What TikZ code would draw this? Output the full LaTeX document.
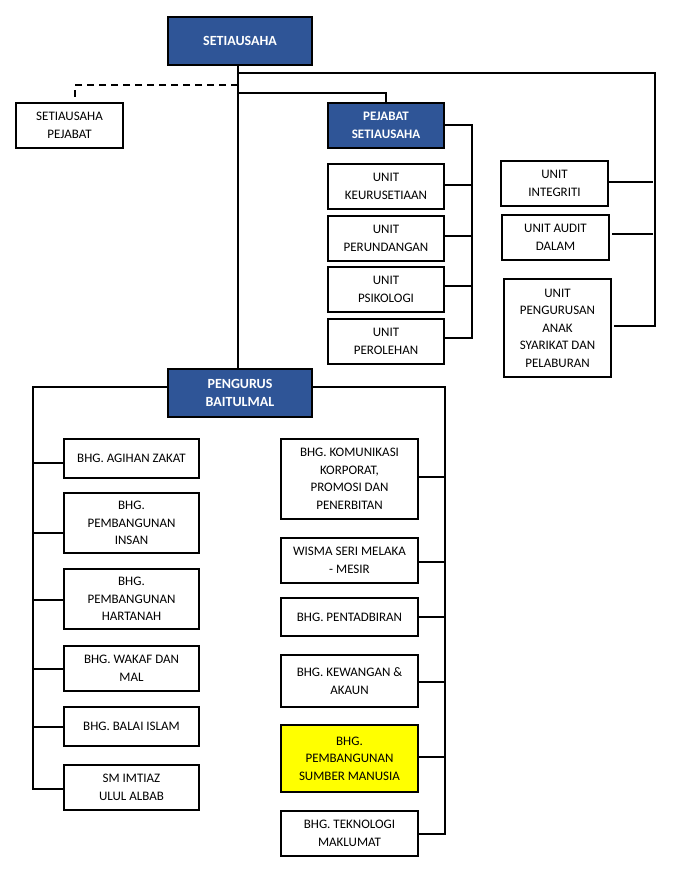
\documentclass[tikz,border=0pt]{standalone}
\usepackage{fontspec}
\setmainfont{Carlito}
\definecolor{hdrblue}{HTML}{2F5597}
\definecolor{hiyellow}{HTML}{FFFF00}
\begin{document}
\begin{tikzpicture}[x=1pt,y=-1pt,
  box/.style={draw=black,line width=2pt,fill=white,rectangle,align=center,inner sep=1pt,
    font=\fontsize{13}{17.5}\selectfont},
  hdr/.style={box,fill=hdrblue,text=white,font=\fontsize{14}{18}\selectfont\bfseries},
  hl/.style={box,fill=hiyellow},
  link/.style={line width=2pt,draw=black},
  dlink/.style={link,dash pattern=on 7pt off 5pt}]
\useasboundingbox (0,0) rectangle (680,883);
% top
\node[hdr,minimum width=144pt,minimum height=48pt] (sec) at (240,41) {SETIAUSAHA};
\node[box,minimum width=107pt,minimum height=45pt] (sp) at (69.5,125.5) {SETIAUSAHA\\PEJABAT};
\node[hdr,minimum width=116pt,minimum height=45pt,font=\fontsize{13}{17.5}\selectfont\bfseries] (pej) at (386,125.5) {PEJABAT\\SETIAUSAHA};
\node[box,minimum width=116pt,minimum height=45pt] (ukeu) at (386,186.5) {UNIT\\KEURUSETIAAN};
\node[box,minimum width=116pt,minimum height=45pt] (uper) at (386,238.5) {UNIT\\PERUNDANGAN};
\node[box,minimum width=116pt,minimum height=45pt] (upsi) at (386,289.5) {UNIT\\PSIKOLOGI};
\node[box,minimum width=116pt,minimum height=45pt] (upro) at (386,341.5) {UNIT\\PEROLEHAN};
\node[box,minimum width=107pt,minimum height=45pt] (uint) at (554.5,183.5) {UNIT\\INTEGRITI};
\node[box,minimum width=107pt,minimum height=45pt] (uaud) at (555.5,237.5) {UNIT AUDIT\\DALAM};
\node[box,minimum width=107pt,minimum height=98pt] (upen) at (557.5,328) {UNIT\\PENGURUSAN\\ANAK\\SYARIKAT DAN\\PELABURAN};
\node[hdr,minimum width=144pt,minimum height=48pt] (pb) at (240,393) {PENGURUS\\BAITULMAL};
% left column
\node[box,minimum width=135pt,minimum height=39pt] (l1) at (131.5,458.5) {BHG. AGIHAN ZAKAT};
\node[box,minimum width=135pt,minimum height=60pt] (l2) at (131.5,523) {BHG.\\PEMBANGUNAN\\INSAN};
\node[box,minimum width=135pt,minimum height=60pt] (l3) at (131.5,599) {BHG.\\PEMBANGUNAN\\HARTANAH};
\node[box,minimum width=135pt,minimum height=45pt] (l4) at (131.5,668.5) {BHG. WAKAF DAN\\MAL};
\node[box,minimum width=135pt,minimum height=39pt] (l5) at (131.5,726.5) {BHG. BALAI ISLAM};
\node[box,minimum width=135pt,minimum height=45pt] (l6) at (131.5,787.5) {SM IMTIAZ\\ULUL ALBAB};
% right column
\node[box,minimum width=137pt,minimum height=80pt] (r1) at (349.5,479) {BHG. KOMUNIKASI\\KORPORAT,\\PROMOSI DAN\\PENERBITAN};
\node[box,minimum width=137pt,minimum height=45pt] (r2) at (349.5,560.5) {WISMA SERI MELAKA\\- MESIR};
\node[box,minimum width=137pt,minimum height=38pt] (r3) at (349.5,617) {BHG. PENTADBIRAN};
\node[box,minimum width=137pt,minimum height=52pt] (r4) at (349.5,681) {BHG. KEWANGAN \&\\AKAUN};
\node[hl,minimum width=137pt,minimum height=67pt] (r5) at (349.5,758.5) {BHG.\\PEMBANGUNAN\\SUMBER MANUSIA};
\node[box,minimum width=137pt,minimum height=45pt] (r6) at (349.5,833.5) {BHG. TEKNOLOGI\\MAKLUMAT};
% helper coordinates
\coordinate (rr) at (653,0);
\coordinate (pr) at (472,0);
\coordinate (lsp) at (33,0);
\coordinate (rsp) at (445,0);
\coordinate (t1) at (238,73);
\coordinate (t2) at (238,93);
\coordinate (t3) at (238,85);
% trunk
\draw[link] ([xshift=-2pt]sec.south) -- ([xshift=-2pt]pb.north);
% top right branch
\draw[link] (t1) -| ([xshift=2pt,yshift=2pt]upen.east -| rr) -- ([xshift=2pt,yshift=2pt]upen.east);
\draw[link] ([yshift=1.5pt]uint.east) -- ([yshift=1.5pt]uint.east -| rr);
\draw[link] ([xshift=2pt,yshift=3.5pt]uaud.east) -- ([yshift=3.5pt]uaud.east -| rr);
% pejabat
\draw[link] (t2) -| (pej.north);
\draw[dlink] (t3) -| ([xshift=5.5pt]sp.north);
\draw[link] ([yshift=0.5pt]pej.east) -| ([yshift=3.5pt]upro.east -| pr) -- ([yshift=3.5pt]upro.east);
\draw[link] ([yshift=1.5pt]ukeu.east) -- ([yshift=1.5pt]ukeu.east -| pr);
\draw[link] ([yshift=2.5pt]uper.east) -- ([yshift=2.5pt]uper.east -| pr);
\draw[link] ([yshift=3.5pt]upsi.east) -- ([yshift=3.5pt]upsi.east -| pr);
% left spine
\draw[link] ([yshift=6pt]pb.west) -| ([yshift=-1.5pt]l6.west -| lsp) -- ([yshift=-1.5pt]l6.west);
\draw[link] ([yshift=-4.5pt]l1.west) -- ([yshift=-4.5pt]l1.west -| lsp);
\draw[link] ([yshift=-10pt]l2.west) -- ([yshift=-10pt]l2.west -| lsp);
\draw[link] ([yshift=-1pt]l3.west) -- ([yshift=-1pt]l3.west -| lsp);
\draw[link] ([yshift=-0.5pt]l4.west) -- ([yshift=-0.5pt]l4.west -| lsp);
\draw[link] ([yshift=-0.5pt]l5.west) -- ([yshift=-0.5pt]l5.west -| lsp);
% right spine
\draw[link] ([yshift=6pt]pb.east) -| ([yshift=-0.5pt]r6.east -| rsp) -- ([yshift=-0.5pt]r6.east);
\draw[link] ([yshift=2pt]r1.east) -- ([yshift=2pt]r1.east -| rsp);
\draw[link] ([yshift=-1.5pt]r2.east) -- ([yshift=-1.5pt]r2.east -| rsp);
\draw[link] (r3.east) -- (r3.east -| rsp);
\draw[link] ([yshift=-1pt]r4.east) -- ([yshift=-1pt]r4.east -| rsp);
\draw[link] ([yshift=1.5pt]r5.east) -- ([yshift=1.5pt]r5.east -| rsp);
\end{tikzpicture}
\end{document}
